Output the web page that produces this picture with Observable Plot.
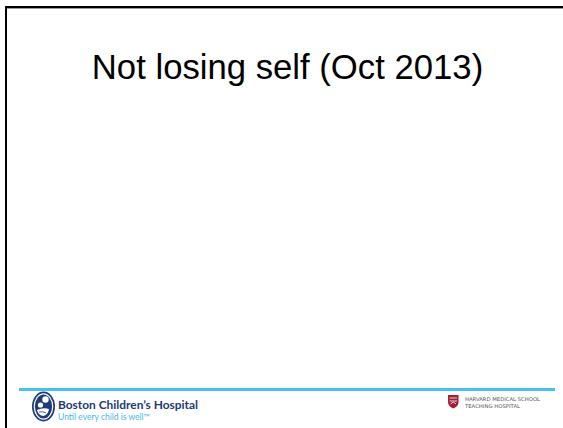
<!DOCTYPE html>
<html>
<head>
<meta charset="utf-8">
<script src="https://cdn.jsdelivr.net/npm/d3@7"></script>
<script src="https://cdn.jsdelivr.net/npm/@observablehq/plot@0.6"></script>
<style>
  html, body { margin: 0; padding: 0; background: #fff; }
  #slide { position: relative; width: 563px; height: 428px; overflow: hidden; background: #fff; }
  #frame { position: absolute; left: 5px; top: 6px; width: 620px; height: 500px;
           border-left: 2px solid #000; border-top: 2px solid #000; box-shadow: inset 0 1px 0 #9a9a9a; }
  #title { position: absolute; left: 6px; top: 50px; width: 563px; text-align: center;
           font-family: "Liberation Sans", Arial, Helvetica, sans-serif; font-size: 34.7px; line-height: 34.7px; color: #000; }
  #chart { position: absolute; left: 0; top: 95px; }
  #footer { position: absolute; left: 0; top: 390px; }
</style>
</head>
<body>
<div id="slide">
  <div id="frame"></div>
  <div id="title"></div>
  <div id="chart"></div>
  <svg id="footer" width="563" height="38" viewBox="0 0 563 38"></svg>
</div>
<script>
// Slide content (no data series are shown on this slide)
const titleText = "Not losing self (Oct 2013)";
const footerRule = [0];
const hospitalName = "Boston Children\u2019s Hospital";
const hospitalTagline = "Until every child is well\u2122";
const harvardLines = ["HARVARD MEDICAL SCHOOL", "TEACHING HOSPITAL"];

document.getElementById("title").textContent = titleText;

const chart = Plot.plot({
  width: 563,
  height: 296,
  marginTop: 0,
  marginRight: 8,
  marginBottom: 2,
  marginLeft: 19,
  x: {axis: null},
  y: {axis: null, domain: [0, 1]},
  marks: [
    Plot.ruleY(footerRule, {stroke: "#48c2ea", strokeWidth: 3})
  ]
});
document.getElementById("chart").appendChild(chart);

// Footer logos
const f = d3.select("#footer");
// Boston Children's logo
const logo = f.append("g");
logo.append("ellipse").attr("cx", 43.5).attr("cy", 16.5).attr("rx", 11.5).attr("ry", 15).attr("fill", "#1f3c78");
logo.append("ellipse").attr("cx", 43.5).attr("cy", 16.5).attr("rx", 9.8).attr("ry", 13.2).attr("fill", "#fff");
logo.append("ellipse").attr("cx", 43.5).attr("cy", 16.5).attr("rx", 8.6).attr("ry", 12).attr("fill", "#1f3c78");
logo.append("circle").attr("cx", 45.5).attr("cy", 9.5).attr("r", 3.2).attr("fill", "#fff");
logo.append("circle").attr("cx", 40.5).attr("cy", 15).attr("r", 2.6).attr("fill", "#fff");
logo.append("path").attr("d", "M37,20 Q43,17 49,19 Q48,25 43,26 Q38,25 37,20 Z").attr("fill", "#fff");
logo.append("path").attr("d", "M39,22 Q43,21 46,23").attr("stroke", "#1f3c78").attr("stroke-width", 0.8).attr("fill", "none");

f.append("text").attr("x", 58).attr("y", 18.5).attr("textLength", 140).attr("lengthAdjust", "spacingAndGlyphs")
  .attr("font-family", "Lato, 'Open Sans', sans-serif").attr("font-weight", 700).attr("font-size", 11.8)
  .attr("fill", "#1b3a73").text(hospitalName);
f.append("text").attr("x", 58).attr("y", 29.5).attr("textLength", 92).attr("lengthAdjust", "spacingAndGlyphs")
  .attr("font-family", "Lato, 'Open Sans', sans-serif").attr("font-weight", 400).attr("font-size", 8.5)
  .attr("fill", "#4db8e6").text(hospitalTagline);

// Harvard shield
const sh = f.append("g");
sh.append("path").attr("d", "M448,5 H458.5 V12 Q458.5,16.5 453.25,18.5 Q448,16.5 448,12 Z").attr("fill", "#a41e34");
sh.append("path").attr("d", "M449.5,8 H457 M449.5,11 H457 M450.5,14 L453.25,12 L456,14").attr("stroke", "#fff").attr("stroke-width", 0.8).attr("fill", "none");

f.selectAll("text.h").data(harvardLines).join("text").attr("class", "h")
  .attr("x", 465).attr("y", (d, i) => 11 + i * 6.5)
  .attr("textLength", (d, i) => i === 0 ? 75 : 55).attr("lengthAdjust", "spacingAndGlyphs")
  .attr("font-family", "'DejaVu Sans', sans-serif").attr("font-size", 5)
  .attr("fill", "#555").text(d => d);
</script>
</body>
</html>
